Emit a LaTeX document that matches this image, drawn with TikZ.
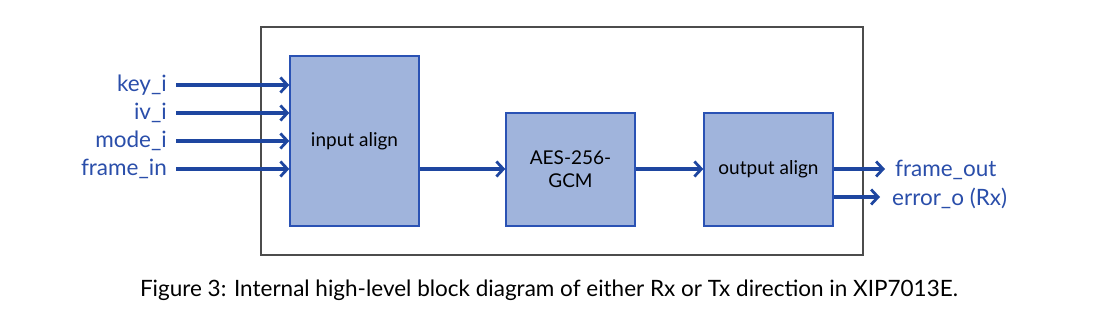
\documentclass[tikz,border=0pt]{standalone}
\usepackage{fontspec}
\setmainfont{Lato}
\usepackage{tikz}
\usetikzlibrary{arrows.meta}

\definecolor{blockfill}{HTML}{A0B4DC}
\definecolor{blockline}{HTML}{2A52B4}
\definecolor{sigblue}{HTML}{1E46A0}
\definecolor{labelblue}{HTML}{2A4EAA}

\tikzset{
  block/.style={draw=blockline, fill=blockfill, line width=1.4pt,
    minimum width=129pt, align=center, font=\fontsize{19}{23}\selectfont, inner sep=0pt},
  sig/.style={draw=sigblue, line width=3.4pt, -{Straight Barb[length=7pt,width=15pt,line width=2.8pt]}},
  siglabel/.style={text=labelblue, font=\fontsize{22.5}{27}\selectfont, inner sep=0pt}
}

\begin{document}
\begin{tikzpicture}[x=1pt,y=-1pt]
    \useasboundingbox (0,0) rectangle (1098,336);

    % Outer frame
    \draw[line width=2pt, draw=black!70] (261,27) rectangle (863,255);

    % Blocks
    \node[block, minimum height=170pt] (inalign) at (354.5,141) {input align};
    \node[block, minimum height=113pt] (aes) at (570.5,169.5) {AES-256-\\GCM};
    \node[block, minimum height=113pt] (outalign) at (768.5,169.5) {output align};

    % Input signals
    \node[siglabel, anchor=east] (key) at (167,85) {key\_i};
    \node[siglabel, anchor=east] (iv) at (167,113) {iv\_i};
    \node[siglabel, anchor=east] (mode) at (167,141) {mode\_i};
    \node[siglabel, anchor=east] (frin) at (167,169) {frame\_in};
    \draw[sig] (176,85) -- (inalign.west |- 0,85);
    \draw[sig] (176,113) -- (inalign.west |- 0,113);
    \draw[sig] (176,141) -- (inalign.west |- 0,141);
    \draw[sig] (176,169) -- (inalign.west |- 0,169);

    % Data path
    \draw[sig] (inalign.east |- 0,169) -- (aes.west |- 0,169);
    \draw[sig] (aes.east |- 0,169) -- (outalign.west |- 0,169);

    % Output signals
    \node[siglabel, anchor=west] (frout) at (895,170) {frame\_out};
    \node[siglabel, anchor=west] (erro) at (892,198) {error\_o (Rx)};
    \draw[sig] (outalign.east |- 0,169) -- (885,169);
    \draw[sig] (outalign.east |- 0,197) -- (880,197);

    % Caption
    \node[font=\fontsize{22.5}{27}\selectfont, inner sep=0pt] (caption) at (549,290)
      {Figure 3: Internal high-level block diagram of either Rx or Tx direction in XIP7013E.};

\end{tikzpicture}
\end{document}
